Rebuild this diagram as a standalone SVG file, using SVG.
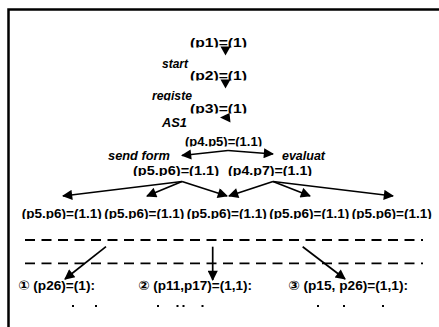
<svg xmlns="http://www.w3.org/2000/svg" width="439" height="327" viewBox="0 0 439 327">
  <style>
    .lbl { font-family: "Liberation Sans", Arial, sans-serif; font-weight: bold; font-size: 13px; fill: #000; }
    .act { font-family: "Liberation Sans", Arial, sans-serif; font-weight: bold; font-style: italic; font-size: 12.5px; fill: #000; }
    .res { font-family: "Liberation Sans", "DejaVu Sans", "Noto Sans CJK SC", sans-serif; font-weight: bold; font-size: 13px; fill: #000; }
    .edge { stroke: #000; stroke-width: 1.7; fill: none; }
    .dash { stroke: #000; stroke-width: 1.8; stroke-dasharray: 10 6.5; fill: none; }
    .head { fill: #000; }
  </style>
  <defs>
    <marker id="arrow" viewBox="0 0 10 10" refX="9" refY="5" markerWidth="7" markerHeight="6" orient="auto" markerUnits="strokeWidth">
      <path d="M0,0 L10,5 L0,10 z" fill="#000"/>
    </marker>
    <!-- each state label is cut off just under its baseline -->
    <clipPath id="c1" clipPathUnits="userSpaceOnUse"><rect x="0" y="30" width="439" height="17.5"/></clipPath>
    <clipPath id="c2" clipPathUnits="userSpaceOnUse"><rect x="0" y="52" width="439" height="16.5"/></clipPath>
    <clipPath id="c3" clipPathUnits="userSpaceOnUse"><rect x="0" y="64" width="439" height="16.5"/></clipPath>
    <clipPath id="c4" clipPathUnits="userSpaceOnUse"><rect x="0" y="84" width="439" height="16.5"/></clipPath>
    <clipPath id="c5" clipPathUnits="userSpaceOnUse"><rect x="0" y="98" width="439" height="15.5"/></clipPath>
    <clipPath id="c6" clipPathUnits="userSpaceOnUse"><rect x="0" y="112" width="439" height="15.5"/></clipPath>
    <clipPath id="c7" clipPathUnits="userSpaceOnUse"><rect x="0" y="130" width="439" height="16.5"/></clipPath>
    <clipPath id="c8" clipPathUnits="userSpaceOnUse"><rect x="0" y="146" width="439" height="15"/></clipPath>
    <clipPath id="c9" clipPathUnits="userSpaceOnUse"><rect x="0" y="160" width="439" height="16"/></clipPath>
    <clipPath id="c10" clipPathUnits="userSpaceOnUse"><rect x="0" y="200" width="439" height="19"/></clipPath>
  </defs>

  <rect x="8.5" y="9.5" width="440" height="330" fill="#fff" stroke="#000" stroke-width="2.5"/>

  <g id="s1" clip-path="url(#c1)"><text class="lbl" x="190" y="46.5" textLength="57" lengthAdjust="spacingAndGlyphs">(p1)=(1)</text></g>
  <g id="t-start" clip-path="url(#c2)"><text class="act" x="162" y="67.5" textLength="26" lengthAdjust="spacingAndGlyphs">start</text></g>
  <g id="s2" clip-path="url(#c3)"><text class="lbl" x="190" y="79.5" textLength="57" lengthAdjust="spacingAndGlyphs">(p2)=(1)</text></g>
  <g id="t-register" clip-path="url(#c4)"><text class="act" x="152" y="99.5" textLength="40" lengthAdjust="spacingAndGlyphs">registe</text></g>
  <g id="s3" clip-path="url(#c5)"><text class="lbl" x="190" y="112.5" textLength="57" lengthAdjust="spacingAndGlyphs">(p3)=(1)</text></g>
  <g id="t-as1" clip-path="url(#c6)"><text class="act" x="162" y="126.5" textLength="25" lengthAdjust="spacingAndGlyphs">AS1</text></g>
  <g id="s4" clip-path="url(#c7)"><text class="lbl" x="185" y="145.5" textLength="77" lengthAdjust="spacingAndGlyphs">(p4.p5)=(1.1)</text></g>
  <g id="t-send" clip-path="url(#c8)"><text class="act" x="108" y="160" textLength="62" lengthAdjust="spacingAndGlyphs">send form</text></g>
  <g id="t-eval" clip-path="url(#c8)"><text class="act" x="282" y="160" textLength="43" lengthAdjust="spacingAndGlyphs">evaluat</text></g>
  <g id="s5" clip-path="url(#c9)"><text class="lbl" x="133" y="175" textLength="86" lengthAdjust="spacingAndGlyphs">(p5.p6)=(1.1)</text></g>
  <g id="s6" clip-path="url(#c9)"><text class="lbl" x="228" y="175" textLength="84" lengthAdjust="spacingAndGlyphs">(p4.p7)=(1.1)</text></g>
  <g id="r1" clip-path="url(#c10)"><text class="lbl" x="21.7" y="218" textLength="80" lengthAdjust="spacingAndGlyphs">(p5.p6)=(1.1)</text></g>
  <g id="r2" clip-path="url(#c10)"><text class="lbl" x="104.2" y="218" textLength="80" lengthAdjust="spacingAndGlyphs">(p5.p6)=(1.1)</text></g>
  <g id="r3" clip-path="url(#c10)"><text class="lbl" x="186.7" y="218" textLength="80" lengthAdjust="spacingAndGlyphs">(p5.p6)=(1.1)</text></g>
  <g id="r4" clip-path="url(#c10)"><text class="lbl" x="269.2" y="218" textLength="80" lengthAdjust="spacingAndGlyphs">(p5.p6)=(1.1)</text></g>
  <g id="r5" clip-path="url(#c10)"><text class="lbl" x="351.7" y="218" textLength="80" lengthAdjust="spacingAndGlyphs">(p5.p6)=(1.1)</text></g>

  <g id="connectors">
    <!-- arrowheads of the sequential steps -->
    <polygon class="head" points="220.5,46.5 230.5,46.5 225.5,55.5"/>
    <polygon class="head" points="220.5,79.5 230.5,79.5 225.5,88.5"/>
    <polygon class="head" points="220,117.5 229.5,113 230.5,122.5"/>
    <!-- split after AS1 -->
    <line class="edge" x1="228" y1="150.5" x2="182" y2="155.5" marker-end="url(#arrow)"/>
    <line class="edge" x1="228" y1="150.5" x2="273" y2="154" marker-end="url(#arrow)"/>
    <!-- fan-out to the five result states -->
    <line class="edge" x1="182" y1="181.5" x2="63" y2="196" marker-end="url(#arrow)"/>
    <line class="edge" x1="182" y1="181.5" x2="147" y2="196" marker-end="url(#arrow)"/>
    <line class="edge" x1="182" y1="181.5" x2="227" y2="196" marker-end="url(#arrow)"/>
    <line class="edge" x1="273" y1="181.5" x2="229" y2="196" marker-end="url(#arrow)"/>
    <line class="edge" x1="273" y1="181.5" x2="310" y2="196" marker-end="url(#arrow)"/>
    <line class="edge" x1="273" y1="181.5" x2="393" y2="196" marker-end="url(#arrow)"/>
    <!-- dashed band -->
    <line class="dash" x1="25" y1="240" x2="423" y2="240"/>
    <line class="dash" x1="25" y1="263.3" x2="423" y2="263.3"/>
    <line class="edge" x1="106" y1="246.7" x2="65" y2="279" marker-end="url(#arrow)"/>
    <line class="edge" x1="212.7" y1="246.7" x2="212.7" y2="280" marker-end="url(#arrow)"/>
    <line class="edge" x1="302.7" y1="246.7" x2="345" y2="279" marker-end="url(#arrow)"/>
  </g>

  <g id="case1"><text class="res" x="18" y="290" textLength="77" lengthAdjust="spacingAndGlyphs">① (p26)=(1):</text></g>
  <g id="case2"><text class="res" x="138" y="290" textLength="114" lengthAdjust="spacingAndGlyphs">② (p11,p17)=(1,1):</text></g>
  <g id="case3"><text class="res" x="288" y="290" textLength="120" lengthAdjust="spacingAndGlyphs">③ (p15, p26)=(1,1):</text></g>

  <!-- tops of the next line, cut by the frame -->
  <g id="fragments" fill="#000">
    <rect x="72" y="305" width="2" height="2"/>
    <rect x="95" y="305" width="2" height="2"/>
    <rect x="157" y="305" width="2" height="2"/>
    <rect x="176.5" y="305" width="2" height="2"/>
    <rect x="182.5" y="305" width="2" height="2"/>
    <rect x="201.5" y="305" width="2" height="2"/>
    <rect x="317" y="305" width="2" height="2"/>
    <rect x="343" y="305" width="2" height="2"/>
    <rect x="382" y="305" width="2" height="2"/>
  </g>
</svg>
